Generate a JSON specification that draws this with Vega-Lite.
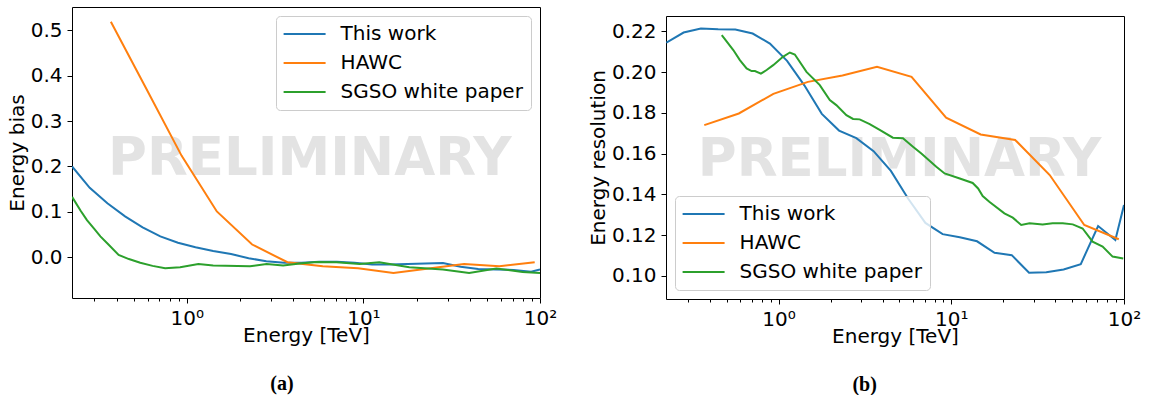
{
  "$schema": "https://vega.github.io/schema/vega-lite/v6.json",
  "background": "white",
  "padding": {"left": 6, "top": 6, "right": 5, "bottom": 0},
  "datasets": {
    "bias": [
      {"E": 0.224, "v": 0.200, "s": "This work"}, {"E": 0.282, "v": 0.153, "s": "This work"}, {"E": 0.355, "v": 0.119, "s": "This work"}, {"E": 0.447, "v": 0.090, "s": "This work"}, {"E": 0.562, "v": 0.066, "s": "This work"}, {"E": 0.708, "v": 0.046, "s": "This work"}, {"E": 0.891, "v": 0.032, "s": "This work"}, {"E": 1.12, "v": 0.022, "s": "This work"}, {"E": 1.41, "v": 0.014, "s": "This work"}, {"E": 1.78, "v": 0.007, "s": "This work"}, {"E": 2.24, "v": -0.002, "s": "This work"}, {"E": 2.82, "v": -0.009, "s": "This work"}, {"E": 3.55, "v": -0.012, "s": "This work"}, {"E": 4.47, "v": -0.012, "s": "This work"}, {"E": 5.62, "v": -0.010, "s": "This work"}, {"E": 7.08, "v": -0.010, "s": "This work"}, {"E": 8.91, "v": -0.012, "s": "This work"}, {"E": 11.2, "v": -0.016, "s": "This work"}, {"E": 14.1, "v": -0.016, "s": "This work"}, {"E": 17.8, "v": -0.015, "s": "This work"}, {"E": 22.4, "v": -0.014, "s": "This work"}, {"E": 28.2, "v": -0.0125, "s": "This work"}, {"E": 35.5, "v": -0.021, "s": "This work"}, {"E": 44.7, "v": -0.026, "s": "This work"}, {"E": 56.2, "v": -0.027, "s": "This work"}, {"E": 70.8, "v": -0.028, "s": "This work"}, {"E": 89.1, "v": -0.032, "s": "This work"}, {"E": 100, "v": -0.027, "s": "This work"},
      {"E": 0.3715, "v": 0.519, "s": "HAWC"}, {"E": 0.5888, "v": 0.372, "s": "HAWC"}, {"E": 0.9333, "v": 0.224, "s": "HAWC"}, {"E": 1.479, "v": 0.101, "s": "HAWC"}, {"E": 2.344, "v": 0.028, "s": "HAWC"}, {"E": 3.715, "v": -0.011, "s": "HAWC"}, {"E": 5.888, "v": -0.020, "s": "HAWC"}, {"E": 9.333, "v": -0.024, "s": "HAWC"}, {"E": 14.79, "v": -0.0346, "s": "HAWC"}, {"E": 23.44, "v": -0.025, "s": "HAWC"}, {"E": 37.15, "v": -0.0147, "s": "HAWC"}, {"E": 58.88, "v": -0.0199, "s": "HAWC"}, {"E": 93.33, "v": -0.011, "s": "HAWC"},
      {"E": 0.224, "v": 0.133, "s": "SGSO white paper"}, {"E": 0.25, "v": 0.103, "s": "SGSO white paper"}, {"E": 0.272, "v": 0.082, "s": "SGSO white paper"}, {"E": 0.30, "v": 0.062, "s": "SGSO white paper"}, {"E": 0.324, "v": 0.046, "s": "SGSO white paper"}, {"E": 0.36, "v": 0.028, "s": "SGSO white paper"}, {"E": 0.411, "v": 0.005, "s": "SGSO white paper"}, {"E": 0.47, "v": -0.004, "s": "SGSO white paper"}, {"E": 0.545, "v": -0.012, "s": "SGSO white paper"}, {"E": 0.64, "v": -0.019, "s": "SGSO white paper"}, {"E": 0.754, "v": -0.024, "s": "SGSO white paper"}, {"E": 0.917, "v": -0.022, "s": "SGSO white paper"}, {"E": 1.163, "v": -0.015, "s": "SGSO white paper"}, {"E": 1.41, "v": -0.018, "s": "SGSO white paper"}, {"E": 2.28, "v": -0.020, "s": "SGSO white paper"}, {"E": 2.83, "v": -0.015, "s": "SGSO white paper"}, {"E": 3.51, "v": -0.018, "s": "SGSO white paper"}, {"E": 4.37, "v": -0.014, "s": "SGSO white paper"}, {"E": 5.43, "v": -0.0103, "s": "SGSO white paper"}, {"E": 7.03, "v": -0.011, "s": "SGSO white paper"}, {"E": 9.53, "v": -0.0147, "s": "SGSO white paper"}, {"E": 12.3, "v": -0.011, "s": "SGSO white paper"}, {"E": 18.2, "v": -0.022, "s": "SGSO white paper"}, {"E": 28.2, "v": -0.027, "s": "SGSO white paper"}, {"E": 39.7, "v": -0.0346, "s": "SGSO white paper"}, {"E": 56.5, "v": -0.025, "s": "SGSO white paper"}, {"E": 79.7, "v": -0.0324, "s": "SGSO white paper"}, {"E": 100, "v": -0.0346, "s": "SGSO white paper"}
    ],
    "res": [
      {"E": 0.224, "v": 0.2144, "s": "This work"}, {"E": 0.282, "v": 0.2194, "s": "This work"}, {"E": 0.355, "v": 0.2214, "s": "This work"}, {"E": 0.447, "v": 0.2210, "s": "This work"}, {"E": 0.562, "v": 0.2209, "s": "This work"}, {"E": 0.708, "v": 0.2189, "s": "This work"}, {"E": 0.891, "v": 0.2140, "s": "This work"}, {"E": 1.12, "v": 0.2055, "s": "This work"}, {"E": 1.41, "v": 0.1935, "s": "This work"}, {"E": 1.78, "v": 0.1795, "s": "This work"}, {"E": 2.24, "v": 0.1713, "s": "This work"}, {"E": 2.82, "v": 0.1676, "s": "This work"}, {"E": 3.55, "v": 0.1612, "s": "This work"}, {"E": 4.47, "v": 0.1515, "s": "This work"}, {"E": 5.62, "v": 0.138, "s": "This work"}, {"E": 7.08, "v": 0.126, "s": "This work"}, {"E": 8.91, "v": 0.1205, "s": "This work"}, {"E": 11.2, "v": 0.1190, "s": "This work"}, {"E": 14.1, "v": 0.1170, "s": "This work"}, {"E": 17.8, "v": 0.1114, "s": "This work"}, {"E": 22.4, "v": 0.1102, "s": "This work"}, {"E": 28.2, "v": 0.1016, "s": "This work"}, {"E": 35.5, "v": 0.1018, "s": "This work"}, {"E": 44.7, "v": 0.1032, "s": "This work"}, {"E": 56.2, "v": 0.1058, "s": "This work"}, {"E": 70.8, "v": 0.1245, "s": "This work"}, {"E": 89.1, "v": 0.1176, "s": "This work"}, {"E": 100, "v": 0.1348, "s": "This work"},
      {"E": 0.3715, "v": 0.174, "s": "HAWC"}, {"E": 0.5888, "v": 0.1797, "s": "HAWC"}, {"E": 0.9333, "v": 0.1893, "s": "HAWC"}, {"E": 1.479, "v": 0.1952, "s": "HAWC"}, {"E": 2.344, "v": 0.1983, "s": "HAWC"}, {"E": 3.715, "v": 0.2026, "s": "HAWC"}, {"E": 5.888, "v": 0.1977, "s": "HAWC"}, {"E": 9.333, "v": 0.1776, "s": "HAWC"}, {"E": 14.79, "v": 0.1694, "s": "HAWC"}, {"E": 23.44, "v": 0.1667, "s": "HAWC"}, {"E": 37.15, "v": 0.1495, "s": "HAWC"}, {"E": 58.88, "v": 0.125, "s": "HAWC"}, {"E": 93.33, "v": 0.118, "s": "HAWC"},
      {"E": 0.469, "v": 0.2181, "s": "SGSO white paper"}, {"E": 0.547, "v": 0.2108, "s": "SGSO white paper"}, {"E": 0.597, "v": 0.2059, "s": "SGSO white paper"}, {"E": 0.653, "v": 0.2018, "s": "SGSO white paper"}, {"E": 0.698, "v": 0.2005, "s": "SGSO white paper"}, {"E": 0.730, "v": 0.2005, "s": "SGSO white paper"}, {"E": 0.790, "v": 0.1992, "s": "SGSO white paper"}, {"E": 0.853, "v": 0.2010, "s": "SGSO white paper"}, {"E": 0.931, "v": 0.2034, "s": "SGSO white paper"}, {"E": 1.06, "v": 0.2075, "s": "SGSO white paper"}, {"E": 1.162, "v": 0.2096, "s": "SGSO white paper"}, {"E": 1.242, "v": 0.2086, "s": "SGSO white paper"}, {"E": 1.451, "v": 0.2001, "s": "SGSO white paper"}, {"E": 1.733, "v": 0.1936, "s": "SGSO white paper"}, {"E": 1.98, "v": 0.1863, "s": "SGSO white paper"}, {"E": 2.16, "v": 0.1838, "s": "SGSO white paper"}, {"E": 2.47, "v": 0.1789, "s": "SGSO white paper"}, {"E": 2.70, "v": 0.1770, "s": "SGSO white paper"}, {"E": 2.95, "v": 0.1768, "s": "SGSO white paper"}, {"E": 3.37, "v": 0.1745, "s": "SGSO white paper"}, {"E": 3.85, "v": 0.1716, "s": "SGSO white paper"}, {"E": 4.59, "v": 0.1678, "s": "SGSO white paper"}, {"E": 5.25, "v": 0.1675, "s": "SGSO white paper"}, {"E": 6.00, "v": 0.1634, "s": "SGSO white paper"}, {"E": 6.71, "v": 0.1601, "s": "SGSO white paper"}, {"E": 8.19, "v": 0.1536, "s": "SGSO white paper"}, {"E": 9.15, "v": 0.1503, "s": "SGSO white paper"}, {"E": 11.2, "v": 0.1478, "s": "SGSO white paper"}, {"E": 13.3, "v": 0.1456, "s": "SGSO white paper"}, {"E": 14.3, "v": 0.1429, "s": "SGSO white paper"}, {"E": 15.2, "v": 0.1392, "s": "SGSO white paper"}, {"E": 16.6, "v": 0.1364, "s": "SGSO white paper"}, {"E": 20.3, "v": 0.1307, "s": "SGSO white paper"}, {"E": 22.7, "v": 0.1286, "s": "SGSO white paper"}, {"E": 25.4, "v": 0.1250, "s": "SGSO white paper"}, {"E": 28.4, "v": 0.1258, "s": "SGSO white paper"}, {"E": 33.8, "v": 0.1253, "s": "SGSO white paper"}, {"E": 38.6, "v": 0.1258, "s": "SGSO white paper"}, {"E": 44.2, "v": 0.1258, "s": "SGSO white paper"}, {"E": 50.5, "v": 0.1253, "s": "SGSO white paper"}, {"E": 57.6, "v": 0.1233, "s": "SGSO white paper"}, {"E": 65.8, "v": 0.1168, "s": "SGSO white paper"}, {"E": 75.2, "v": 0.1144, "s": "SGSO white paper"}, {"E": 85.9, "v": 0.1095, "s": "SGSO white paper"}, {"E": 99, "v": 0.1086, "s": "SGSO white paper"}
    ]
  },
  "spacing": 29,
  "align": "none",
  "resolve": {"scale": {"color": "independent"}, "legend": {"color": "independent"}},
  "hconcat": [
    {
      "title": {"text": "(a)", "orient": "bottom", "anchor": "middle", "frame": "bounds", "offset": 28},
      "resolve": {"scale": {"color": "independent"}, "legend": {"color": "independent"}},
      "vconcat": [
        {
          "width": 468,
          "height": 291,
          "layer": [
            {
              "data": {"values": [{}]},
              "mark": {"type": "text", "text": "PRELIMINARY", "font": "DejaVu Sans", "fontSize": 53, "fontWeight": "bold", "color": "#e3e3e3", "align": "center", "baseline": "alphabetic"},
              "encoding": {
                "x": {"datum": 4.97, "type": "quantitative", "scale": {"type": "log", "domain": [0.2238, 100], "nice": false},
                      "axis": {"orient": "bottom", "values": [0.3, 0.4, 0.5, 0.6, 0.7, 0.8, 0.9, 2, 3, 4, 5, 6, 7, 8, 9, 20, 30, 40, 50, 60, 70, 80, 90], "labels": false, "tickSize": 3, "title": null}},
                "y": {"datum": 0.181, "type": "quantitative", "scale": {"domain": [-0.0898, 0.5515], "nice": false, "zero": false},
                      "axis": {"values": [0, 0.1, 0.2, 0.3, 0.4, 0.5], "format": ".1f", "title": "Energy bias"}}
              }
            },
            {
              "data": {"name": "bias"},
              "mark": {"type": "line", "strokeWidth": 2, "clip": true},
              "encoding": {
                "x": {"field": "E", "type": "quantitative", "scale": {"type": "log", "domain": [0.2238, 100], "nice": false},
                      "axis": {"orient": "bottom", "values": [1, 10, 100], "labelExpr": "datum.value == 1 ? '10⁰' : datum.value == 10 ? '10¹' : '10²'", "title": "Energy [TeV]", "labelFlush": false, "labelOverlap": false}},
                "y": {"field": "v", "type": "quantitative", "scale": {"domain": [-0.0898, 0.5515], "nice": false, "zero": false},
                      "axis": {"values": [0, 0.1, 0.2, 0.3, 0.4, 0.5], "format": ".1f", "title": "Energy bias"}},
                "color": {"field": "s", "type": "nominal",
                          "scale": {"domain": ["This work", "HAWC", "SGSO white paper"], "range": ["#1f77b4", "#ff7f0e", "#2ca02c"]},
                          "legend": {"title": null, "orient": "top-right"}}
              }
            }
          ],
          "resolve": {"axis": {"x": "independent"}}
        }
      ]
    },
    {
      "title": {"text": "(b)", "orient": "bottom", "anchor": "middle", "frame": "bounds", "offset": 28},
      "resolve": {"scale": {"color": "independent"}, "legend": {"color": "independent"}},
      "spacing": 0,
      "vconcat": [
        {
          "width": 458,
          "height": 8,
          "data": {"values": []},
          "mark": {"type": "text"},
          "view": {"stroke": null}
        },
        {
          "width": 458,
          "height": 283,
          "layer": [
            {
              "data": {"values": [{}]},
              "mark": {"type": "text", "text": "PRELIMINARY", "font": "DejaVu Sans", "fontSize": 53, "fontWeight": "bold", "color": "#e3e3e3", "align": "center", "baseline": "alphabetic"},
              "encoding": {
                "x": {"datum": 5.02, "type": "quantitative", "scale": {"type": "log", "domain": [0.223, 100], "nice": false},
                      "axis": {"orient": "bottom", "values": [0.3, 0.4, 0.5, 0.6, 0.7, 0.8, 0.9, 2, 3, 4, 5, 6, 7, 8, 9, 20, 30, 40, 50, 60, 70, 80, 90], "labels": false, "tickSize": 3, "title": null}},
                "y": {"datum": 0.1492, "type": "quantitative", "scale": {"domain": [0.0887, 0.2275], "nice": false, "zero": false},
                      "axis": {"values": [0.10, 0.12, 0.14, 0.16, 0.18, 0.20, 0.22], "format": ".2f", "title": "Energy resolution"}}
              }
            },
            {
              "data": {"name": "res"},
              "mark": {"type": "line", "strokeWidth": 2, "clip": true},
              "encoding": {
                "x": {"field": "E", "type": "quantitative", "scale": {"type": "log", "domain": [0.223, 100], "nice": false},
                      "axis": {"orient": "bottom", "values": [1, 10, 100], "labelExpr": "datum.value == 1 ? '10⁰' : datum.value == 10 ? '10¹' : '10²'", "title": "Energy [TeV]", "labelFlush": false, "labelOverlap": false}},
                "y": {"field": "v", "type": "quantitative", "scale": {"domain": [0.0887, 0.2275], "nice": false, "zero": false},
                      "axis": {"values": [0.10, 0.12, 0.14, 0.16, 0.18, 0.20, 0.22], "format": ".2f", "title": "Energy resolution"}},
                "color": {"field": "s", "type": "nominal",
                          "scale": {"domain": ["This work", "HAWC", "SGSO white paper"], "range": ["#1f77b4", "#ff7f0e", "#2ca02c"]},
                          "legend": {"title": null, "orient": "bottom-left"}}
              }
            }
          ],
          "resolve": {"axis": {"x": "independent"}}
        }
      ]
    }
  ],
  "config": {
    "font": "DejaVu Sans",
    "view": {"stroke": "black", "strokeWidth": 1},
    "axis": {
      "domain": false, "grid": false,
      "labelFont": "DejaVu Sans", "labelFontSize": 20, "labelColor": "black", "labelPadding": 5,
      "tickColor": "black", "tickWidth": 1, "tickSize": 5,
      "titleFont": "DejaVu Sans", "titleFontSize": 20, "titleFontWeight": "normal", "titleColor": "black"
    },
    "axisX": {"titlePadding": -3},
    "axisY": {"titlePadding": 3},
    "legend": {
      "labelFont": "DejaVu Sans", "labelFontSize": 20, "labelColor": "black", "labelLimit": 400,
      "symbolType": "M-2.5,0H2.5", "symbolSize": 282, "symbolStrokeWidth": 2,
      "padding": 8, "rowPadding": 9, "labelOffset": 26, "symbolOffset": 10.6,
      "strokeColor": "#cccccc", "fillColor": "rgba(255,255,255,0.8)", "cornerRadius": 4, "offset": 9
    },
    "title": {"font": "Liberation Serif", "fontSize": 20, "fontWeight": "bold", "color": "black"}
  }
}
